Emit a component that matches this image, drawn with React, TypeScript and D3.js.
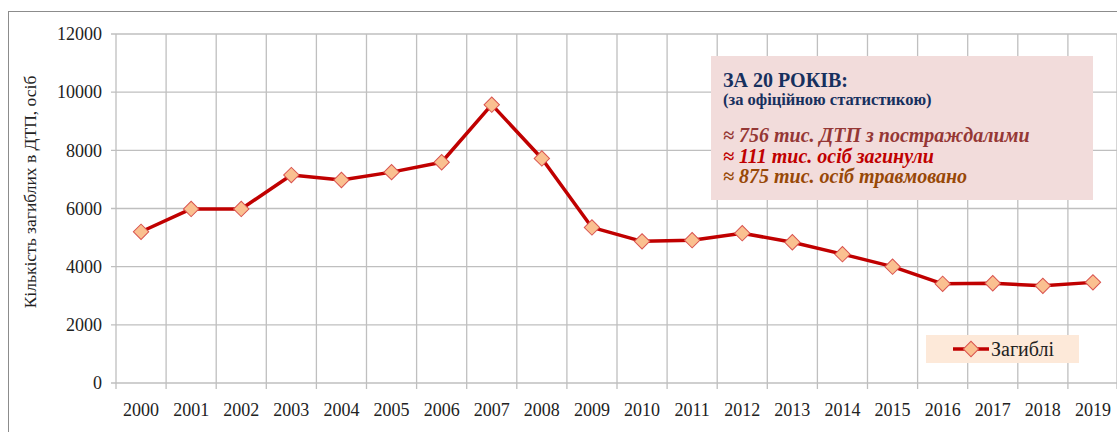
import React, { useEffect, useRef } from "react";
import * as d3 from "d3";

const years = ["2000", "2001", "2002", "2003", "2004", "2005", "2006", "2007", "2008", "2009", "2010", "2011", "2012", "2013", "2014", "2015", "2016", "2017", "2018", "2019"];
const deaths = [5200, 5985, 5985, 7150, 6980, 7250, 7590, 9570, 7720, 5350, 4870, 4910, 5150, 4840, 4430, 4000, 3410, 3430, 3340, 3460];
const yTicks = [0, 2000, 4000, 6000, 8000, 10000, 12000];
const noteLines = [
  { text: "≈ 756 тис. ДТП з постраждалими", color: "#953735" },
  { text: "≈ 111 тис. осіб загинули", color: "#c00000" },
  { text: "≈ 875 тис. осіб травмовано", color: "#984807" },
];

const W = 1117;
const H = 432;
const serif = "Liberation Serif, Times New Roman, serif";

export default function App() {
  const ref = useRef<SVGSVGElement | null>(null);

  useEffect(() => {
    const svg = d3.select(ref.current);
    svg.selectAll("*").remove();

    const left = 116, right = 1118, top = 34, bottom = 383;

    const x = d3.scaleBand<string>().domain(years).range([left, right]);
    const y = d3.scaleLinear().domain([0, 12000]).range([bottom, top]);

    // outer frame
    svg.append("rect")
      .attr("x", 8.5).attr("y", 11.5)
      .attr("width", W).attr("height", H)
      .attr("fill", "white").attr("stroke", "#8c8c8c");

    const grid = svg.append("g").attr("stroke", "#bfbfbf").attr("stroke-width", 1.3);
    yTicks.forEach((t) => {
      grid.append("line")
        .attr("x1", left - 5).attr("x2", right)
        .attr("y1", y(t)).attr("y2", y(t));
    });
    years.forEach((yr) => {
      const xv = x(yr)!;
      grid.append("line").attr("x1", xv).attr("x2", xv).attr("y1", top).attr("y2", bottom + 6);
    });
    grid.append("line").attr("x1", right - 1).attr("x2", right - 1).attr("y1", top).attr("y2", bottom + 6);

    svg.append("g")
      .selectAll("text")
      .data(yTicks)
      .join("text")
      .attr("x", left - 14)
      .attr("y", (d) => y(d))
      .attr("dy", "0.35em")
      .attr("text-anchor", "end")
      .attr("font-family", serif)
      .attr("font-size", 18)
      .attr("fill", "#222")
      .text((d) => String(d));

    svg.append("g")
      .selectAll("text")
      .data(years)
      .join("text")
      .attr("x", (d) => x(d)! + x.bandwidth() / 2)
      .attr("y", 410)
      .attr("dy", "0.35em")
      .attr("text-anchor", "middle")
      .attr("font-family", serif)
      .attr("font-size", 18)
      .attr("fill", "#222")
      .text((d) => d);

    svg.append("text")
      .attr("transform", `translate(30, 192) rotate(-90)`)
      .attr("text-anchor", "middle")
      .attr("dy", "0.35em")
      .attr("font-family", serif)
      .attr("font-size", 17.5)
      .attr("fill", "#222")
      .text("Кількість загиблих в ДТП, осіб");

    const cx = (i: number) => x(years[i])! + x.bandwidth() / 2;
    const line = d3.line<number>().x((_, i) => cx(i)).y((d) => y(d));

    svg.append("path")
      .datum(deaths)
      .attr("d", line)
      .attr("fill", "none")
      .attr("stroke", "#c00000")
      .attr("stroke-width", 3.5)
      .attr("stroke-linejoin", "round");

    const diamond = d3.symbol().type(d3.symbolSquare).size(118);
    svg.append("g")
      .selectAll("path")
      .data(deaths)
      .join("path")
      .attr("d", diamond)
      .attr("transform", (d, i) => `translate(${cx(i)}, ${y(d)}) rotate(45)`)
      .attr("fill", "#fac090")
      .attr("stroke", "#d9534f")
      .attr("stroke-width", 1);

    // note box
    const note = svg.append("g");
    note.append("rect")
      .attr("x", 711).attr("y", 56).attr("width", 382).attr("height", 144)
      .attr("fill", "#f2dcdb");
    note.append("text")
      .attr("x", 723).attr("y", 87)
      .attr("font-family", serif).attr("font-size", 20).attr("font-weight", "bold")
      .attr("fill", "#17305e")
      .text("ЗА 20 РОКІВ:");
    note.append("text")
      .attr("x", 723).attr("y", 105)
      .attr("font-family", serif).attr("font-size", 16.5).attr("font-weight", "bold")
      .attr("fill", "#17305e")
      .text("(за офіційною статистикою)");
    noteLines.forEach((l, i) => {
      note.append("text")
        .attr("x", 723).attr("y", 142 + i * 20.5)
        .attr("font-family", serif).attr("font-size", 20)
        .attr("font-weight", "bold").attr("font-style", "italic")
        .attr("fill", l.color)
        .text(l.text);
    });

    // legend
    const lg = svg.append("g");
    lg.append("rect")
      .attr("x", 926).attr("y", 335).attr("width", 153).attr("height", 28)
      .attr("fill", "#fde9d9");
    lg.append("line")
      .attr("x1", 953).attr("x2", 989).attr("y1", 349).attr("y2", 349)
      .attr("stroke", "#c00000").attr("stroke-width", 3.5);
    lg.append("path")
      .attr("d", diamond)
      .attr("transform", "translate(971, 349) rotate(45)")
      .attr("fill", "#fac090").attr("stroke", "#d9534f");
    lg.append("text")
      .attr("x", 991).attr("y", 349).attr("dy", "0.35em")
      .attr("font-family", serif).attr("font-size", 20).attr("fill", "#222")
      .text("Загиблі");
  }, []);

  return (
    <svg ref={ref} width={W} height={H} style={{ position: "absolute", left: 0, top: 0, display: "block" }} />
  );
}
